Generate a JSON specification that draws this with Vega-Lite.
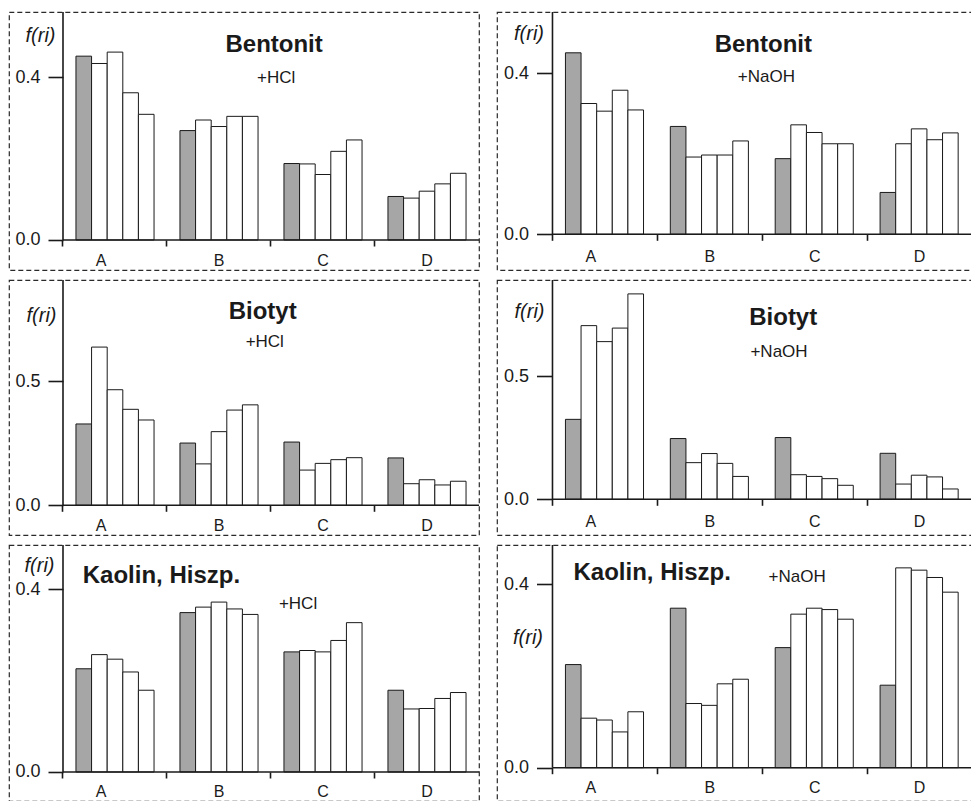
{
  "$schema": "https://vega.github.io/schema/vega-lite/v6.json",
  "padding": {"left": 8, "top": 10, "right": 0, "bottom": 0},
  "bounds": "flush",
  "columns": 2,
  "spacing": {"row": 10, "column": 18},
  "config": {
    "font": "Liberation Sans",
    "view": {"stroke": "#2a2a2a", "strokeDash": [5, 3], "strokeWidth": 1.2},
    "axis": {"domain": false, "grid": false, "labelColor": "#1a1a1a", "tickColor": "#1a1a1a", "tickWidth": 1.6, "titleColor": "#1a1a1a", "labelFont": "Liberation Sans", "titleFont": "Liberation Sans"},
    "bar": {"stroke": "#1a1a1a", "strokeWidth": 1},
    "rule": {"color": "#1a1a1a", "strokeWidth": 1.6},
    "text": {"color": "#1a1a1a"}
  },
  "datasets": {
    "bentHCl": [
      {"g": "A", "n": 1, "v": 0.452}, {"g": "A", "n": 2, "v": 0.434}, {"g": "A", "n": 3, "v": 0.462}, {"g": "A", "n": 4, "v": 0.362}, {"g": "A", "n": 5, "v": 0.309},
      {"g": "B", "n": 1, "v": 0.269}, {"g": "B", "n": 2, "v": 0.295}, {"g": "B", "n": 3, "v": 0.279}, {"g": "B", "n": 4, "v": 0.304}, {"g": "B", "n": 5, "v": 0.304},
      {"g": "C", "n": 1, "v": 0.188}, {"g": "C", "n": 2, "v": 0.187}, {"g": "C", "n": 3, "v": 0.161}, {"g": "C", "n": 4, "v": 0.218}, {"g": "C", "n": 5, "v": 0.246},
      {"g": "D", "n": 1, "v": 0.107}, {"g": "D", "n": 2, "v": 0.103}, {"g": "D", "n": 3, "v": 0.120}, {"g": "D", "n": 4, "v": 0.138}, {"g": "D", "n": 5, "v": 0.164}
    ],
    "bentNaOH": [
      {"g": "A", "n": 1, "v": 0.451}, {"g": "A", "n": 2, "v": 0.325}, {"g": "A", "n": 3, "v": 0.306}, {"g": "A", "n": 4, "v": 0.358}, {"g": "A", "n": 5, "v": 0.309},
      {"g": "B", "n": 1, "v": 0.268}, {"g": "B", "n": 2, "v": 0.192}, {"g": "B", "n": 3, "v": 0.197}, {"g": "B", "n": 4, "v": 0.197}, {"g": "B", "n": 5, "v": 0.232},
      {"g": "C", "n": 1, "v": 0.188}, {"g": "C", "n": 2, "v": 0.272}, {"g": "C", "n": 3, "v": 0.253}, {"g": "C", "n": 4, "v": 0.225}, {"g": "C", "n": 5, "v": 0.225},
      {"g": "D", "n": 1, "v": 0.104}, {"g": "D", "n": 2, "v": 0.225}, {"g": "D", "n": 3, "v": 0.262}, {"g": "D", "n": 4, "v": 0.235}, {"g": "D", "n": 5, "v": 0.252}
    ],
    "bioHCl": [
      {"g": "A", "n": 1, "v": 0.328}, {"g": "A", "n": 2, "v": 0.638}, {"g": "A", "n": 3, "v": 0.466}, {"g": "A", "n": 4, "v": 0.387}, {"g": "A", "n": 5, "v": 0.344},
      {"g": "B", "n": 1, "v": 0.251}, {"g": "B", "n": 2, "v": 0.167}, {"g": "B", "n": 3, "v": 0.297}, {"g": "B", "n": 4, "v": 0.384}, {"g": "B", "n": 5, "v": 0.405},
      {"g": "C", "n": 1, "v": 0.255}, {"g": "C", "n": 2, "v": 0.142}, {"g": "C", "n": 3, "v": 0.169}, {"g": "C", "n": 4, "v": 0.184}, {"g": "C", "n": 5, "v": 0.192},
      {"g": "D", "n": 1, "v": 0.191}, {"g": "D", "n": 2, "v": 0.087}, {"g": "D", "n": 3, "v": 0.103}, {"g": "D", "n": 4, "v": 0.082}, {"g": "D", "n": 5, "v": 0.097}
    ],
    "bioNaOH": [
      {"g": "A", "n": 1, "v": 0.325}, {"g": "A", "n": 2, "v": 0.706}, {"g": "A", "n": 3, "v": 0.641}, {"g": "A", "n": 4, "v": 0.696}, {"g": "A", "n": 5, "v": 0.835},
      {"g": "B", "n": 1, "v": 0.247}, {"g": "B", "n": 2, "v": 0.149}, {"g": "B", "n": 3, "v": 0.186}, {"g": "B", "n": 4, "v": 0.146}, {"g": "B", "n": 5, "v": 0.093},
      {"g": "C", "n": 1, "v": 0.251}, {"g": "C", "n": 2, "v": 0.100}, {"g": "C", "n": 3, "v": 0.093}, {"g": "C", "n": 4, "v": 0.084}, {"g": "C", "n": 5, "v": 0.057},
      {"g": "D", "n": 1, "v": 0.187}, {"g": "D", "n": 2, "v": 0.062}, {"g": "D", "n": 3, "v": 0.098}, {"g": "D", "n": 4, "v": 0.091}, {"g": "D", "n": 5, "v": 0.042}
    ],
    "kaoHCl": [
      {"g": "A", "n": 1, "v": 0.226}, {"g": "A", "n": 2, "v": 0.257}, {"g": "A", "n": 3, "v": 0.247}, {"g": "A", "n": 4, "v": 0.219}, {"g": "A", "n": 5, "v": 0.179},
      {"g": "B", "n": 1, "v": 0.349}, {"g": "B", "n": 2, "v": 0.361}, {"g": "B", "n": 3, "v": 0.372}, {"g": "B", "n": 4, "v": 0.357}, {"g": "B", "n": 5, "v": 0.345},
      {"g": "C", "n": 1, "v": 0.263}, {"g": "C", "n": 2, "v": 0.266}, {"g": "C", "n": 3, "v": 0.263}, {"g": "C", "n": 4, "v": 0.288}, {"g": "C", "n": 5, "v": 0.327},
      {"g": "D", "n": 1, "v": 0.179}, {"g": "D", "n": 2, "v": 0.138}, {"g": "D", "n": 3, "v": 0.139}, {"g": "D", "n": 4, "v": 0.161}, {"g": "D", "n": 5, "v": 0.174}
    ],
    "kaoNaOH": [
      {"g": "A", "n": 1, "v": 0.225}, {"g": "A", "n": 2, "v": 0.108}, {"g": "A", "n": 3, "v": 0.104}, {"g": "A", "n": 4, "v": 0.078}, {"g": "A", "n": 5, "v": 0.122},
      {"g": "B", "n": 1, "v": 0.348}, {"g": "B", "n": 2, "v": 0.140}, {"g": "B", "n": 3, "v": 0.136}, {"g": "B", "n": 4, "v": 0.183}, {"g": "B", "n": 5, "v": 0.193},
      {"g": "C", "n": 1, "v": 0.262}, {"g": "C", "n": 2, "v": 0.335}, {"g": "C", "n": 3, "v": 0.348}, {"g": "C", "n": 4, "v": 0.345}, {"g": "C", "n": 5, "v": 0.324},
      {"g": "D", "n": 1, "v": 0.180}, {"g": "D", "n": 2, "v": 0.436}, {"g": "D", "n": 3, "v": 0.431}, {"g": "D", "n": 4, "v": 0.415}, {"g": "D", "n": 5, "v": 0.383}
    ]
  },
  "concat": [
    {
      "width": 470, "height": 258,
      "layer": [
        {"data": {"name": "bentHCl"}, "mark": {"type": "bar"},
         "encoding": {
           "x": {"field": "g", "type": "nominal", "scale": {"paddingInner": 0, "paddingOuter": 0.2596, "align": 1}, "axis": {"title": null, "offset": -30, "bandPosition": 0, "labelAngle": 0, "tickSize": 6, "labelFontSize": 16, "labelPadding": 6, "labelOffset": {"condition": {"test": "datum.value === 'A'", "value": -14}, "value": 0}}},
           "xOffset": {"field": "n", "type": "nominal", "scale": {"paddingInner": 0, "paddingOuter": 0.83}},
           "y": {"field": "v", "type": "quantitative", "scale": {"domain": [-0.0738, 0.5606], "nice": false, "zero": false}, "axis": {"values": [0, 0.4], "format": ".1f", "offset": -54, "tickSize": 15, "labelFontSize": 18, "labelPadding": 8, "title": "f(ri)", "titleAngle": 0, "titleAlign": "right", "titleBaseline": "alphabetic", "titleFontSize": 20, "titleFontStyle": "italic", "titleFontWeight": "normal", "titleX": -8, "titleY": 29}},
           "y2": {"datum": 0},
           "fill": {"field": "n", "type": "nominal", "scale": {"domain": [1, 2, 3, 4, 5], "range": ["#a6a6a6", "#ffffff", "#ffffff", "#ffffff", "#ffffff"]}, "legend": null}
         }},
        {"data": {"values": [{}]}, "mark": {"type": "rule"},
         "encoding": {"x": {"datum": "A", "type": "nominal", "bandPosition": 0}, "y": {"datum": 0, "type": "quantitative"}, "y2": {"datum": 0.5606}}},
        {"data": {"values": [{}]}, "mark": {"type": "rule"},
         "encoding": {"x": {"datum": "A", "type": "nominal", "bandPosition": 0}, "x2": {"datum": "D", "bandPosition": 1}, "y": {"datum": 0, "type": "quantitative"}}},
        {"data": {"values": [{}]}, "mark": {"type": "text", "text": "Bentonit", "fontSize": 24, "fontWeight": "bold", "baseline": "alphabetic", "align": "center"},
         "encoding": {"x": {"datum": "C", "type": "nominal", "bandPosition": 0.03}, "y": {"datum": 0.462, "type": "quantitative"}}},
        {"data": {"values": [{}]}, "mark": {"type": "text", "text": "+HCl", "fontSize": 17, "baseline": "alphabetic", "align": "center"},
         "encoding": {"x": {"datum": "C", "type": "nominal", "bandPosition": 0.05}, "y": {"datum": 0.386, "type": "quantitative"}}}
      ]
    },
    {
      "width": 475, "height": 258,
      "layer": [
        {"data": {"name": "bentNaOH"}, "mark": {"type": "bar"},
         "encoding": {
           "x": {"field": "g", "type": "nominal", "scale": {"paddingInner": 0, "paddingOuter": 0.2645, "align": 1}, "axis": {"title": null, "offset": -35.7, "bandPosition": 0, "labelAngle": 0, "tickSize": 6, "labelFontSize": 16, "labelPadding": 8, "labelOffset": {"condition": {"test": "datum.value === 'A'", "value": -14}, "value": 0}}},
           "xOffset": {"field": "n", "type": "nominal", "scale": {"paddingInner": 0, "paddingOuter": 0.83}},
           "y": {"field": "v", "type": "quantitative", "scale": {"domain": [-0.0887, 0.5524], "nice": false, "zero": false}, "axis": {"values": [0, 0.4], "format": ".1f", "offset": -55.5, "tickSize": 16, "labelFontSize": 18, "labelPadding": 8, "title": "f(ri)", "titleAngle": 0, "titleAlign": "right", "titleBaseline": "alphabetic", "titleFontSize": 20, "titleFontStyle": "italic", "titleFontWeight": "normal", "titleX": -9, "titleY": 27}},
           "y2": {"datum": 0},
           "fill": {"field": "n", "type": "nominal", "scale": {"domain": [1, 2, 3, 4, 5], "range": ["#a6a6a6", "#ffffff", "#ffffff", "#ffffff", "#ffffff"]}, "legend": null}
         }},
        {"data": {"values": [{}]}, "mark": {"type": "rule"},
         "encoding": {"x": {"datum": "A", "type": "nominal", "bandPosition": 0}, "y": {"datum": 0, "type": "quantitative"}, "y2": {"datum": 0.5524}}},
        {"data": {"values": [{}]}, "mark": {"type": "rule"},
         "encoding": {"x": {"datum": "A", "type": "nominal", "bandPosition": 0}, "x2": {"datum": "D", "bandPosition": 1}, "y": {"datum": 0, "type": "quantitative"}}},
        {"data": {"values": [{}]}, "mark": {"type": "text", "text": "Bentonit", "fontSize": 24, "fontWeight": "bold", "baseline": "alphabetic", "align": "center"},
         "encoding": {"x": {"datum": "C", "type": "nominal", "bandPosition": 0.01}, "y": {"datum": 0.453, "type": "quantitative"}}},
        {"data": {"values": [{}]}, "mark": {"type": "text", "text": "+NaOH", "fontSize": 17, "baseline": "alphabetic", "align": "center"},
         "encoding": {"x": {"datum": "C", "type": "nominal", "bandPosition": 0.04}, "y": {"datum": 0.378, "type": "quantitative"}}}
      ]
    },
    {
      "width": 470, "height": 255,
      "layer": [
        {"data": {"name": "bioHCl"}, "mark": {"type": "bar"},
         "encoding": {
           "x": {"field": "g", "type": "nominal", "scale": {"paddingInner": 0, "paddingOuter": 0.2596, "align": 1}, "axis": {"title": null, "offset": -29.7, "bandPosition": 0, "labelAngle": 0, "tickSize": 6, "labelFontSize": 16, "labelPadding": 6, "labelOffset": {"condition": {"test": "datum.value === 'A'", "value": -14}, "value": 0}}},
           "xOffset": {"field": "n", "type": "nominal", "scale": {"paddingInner": 0, "paddingOuter": 0.83}},
           "y": {"field": "v", "type": "quantitative", "scale": {"domain": [-0.1198, 0.9085], "nice": false, "zero": false}, "axis": {"values": [0, 0.5], "format": ".1f", "offset": -54, "tickSize": 15, "labelFontSize": 18, "labelPadding": 8, "title": "f(ri)", "titleAngle": 0, "titleAlign": "right", "titleBaseline": "alphabetic", "titleFontSize": 20, "titleFontStyle": "italic", "titleFontWeight": "normal", "titleX": -7, "titleY": 41}},
           "y2": {"datum": 0},
           "fill": {"field": "n", "type": "nominal", "scale": {"domain": [1, 2, 3, 4, 5], "range": ["#a6a6a6", "#ffffff", "#ffffff", "#ffffff", "#ffffff"]}, "legend": null}
         }},
        {"data": {"values": [{}]}, "mark": {"type": "rule"},
         "encoding": {"x": {"datum": "A", "type": "nominal", "bandPosition": 0}, "y": {"datum": 0, "type": "quantitative"}, "y2": {"datum": 0.9085}}},
        {"data": {"values": [{}]}, "mark": {"type": "rule"},
         "encoding": {"x": {"datum": "A", "type": "nominal", "bandPosition": 0}, "x2": {"datum": "D", "bandPosition": 1}, "y": {"datum": 0, "type": "quantitative"}}},
        {"data": {"values": [{}]}, "mark": {"type": "text", "text": "Biotyt", "fontSize": 24, "fontWeight": "bold", "baseline": "alphabetic", "align": "center"},
         "encoding": {"x": {"datum": "B", "type": "nominal", "bandPosition": 0.92}, "y": {"datum": 0.752, "type": "quantitative"}}},
        {"data": {"values": [{}]}, "mark": {"type": "text", "text": "+HCl", "fontSize": 17, "baseline": "alphabetic", "align": "center"},
         "encoding": {"x": {"datum": "B", "type": "nominal", "bandPosition": 0.94}, "y": {"datum": 0.638, "type": "quantitative"}}}
      ]
    },
    {
      "width": 475, "height": 255,
      "layer": [
        {"data": {"name": "bioNaOH"}, "mark": {"type": "bar"},
         "encoding": {
           "x": {"field": "g", "type": "nominal", "scale": {"paddingInner": 0, "paddingOuter": 0.2645, "align": 1}, "axis": {"title": null, "offset": -35.7, "bandPosition": 0, "labelAngle": 0, "tickSize": 6, "labelFontSize": 16, "labelPadding": 8, "labelOffset": {"condition": {"test": "datum.value === 'A'", "value": -14}, "value": 0}}},
           "xOffset": {"field": "n", "type": "nominal", "scale": {"paddingInner": 0, "paddingOuter": 0.83}},
           "y": {"field": "v", "type": "quantitative", "scale": {"domain": [-0.1451, 0.8915], "nice": false, "zero": false}, "axis": {"values": [0, 0.5], "format": ".1f", "offset": -55.5, "tickSize": 16, "labelFontSize": 18, "labelPadding": 8, "title": "f(ri)", "titleAngle": 0, "titleAlign": "right", "titleBaseline": "alphabetic", "titleFontSize": 20, "titleFontStyle": "italic", "titleFontWeight": "normal", "titleX": -8.5, "titleY": 37}},
           "y2": {"datum": 0},
           "fill": {"field": "n", "type": "nominal", "scale": {"domain": [1, 2, 3, 4, 5], "range": ["#a6a6a6", "#ffffff", "#ffffff", "#ffffff", "#ffffff"]}, "legend": null}
         }},
        {"data": {"values": [{}]}, "mark": {"type": "rule"},
         "encoding": {"x": {"datum": "A", "type": "nominal", "bandPosition": 0}, "y": {"datum": 0, "type": "quantitative"}, "y2": {"datum": 0.8915}}},
        {"data": {"values": [{}]}, "mark": {"type": "rule"},
         "encoding": {"x": {"datum": "A", "type": "nominal", "bandPosition": 0}, "x2": {"datum": "D", "bandPosition": 1}, "y": {"datum": 0, "type": "quantitative"}}},
        {"data": {"values": [{}]}, "mark": {"type": "text", "text": "Biotyt", "fontSize": 24, "fontWeight": "bold", "baseline": "alphabetic", "align": "center"},
         "encoding": {"x": {"datum": "C", "type": "nominal", "bandPosition": 0.2}, "y": {"datum": 0.709, "type": "quantitative"}}},
        {"data": {"values": [{}]}, "mark": {"type": "text", "text": "+NaOH", "fontSize": 17, "baseline": "alphabetic", "align": "center"},
         "encoding": {"x": {"datum": "C", "type": "nominal", "bandPosition": 0.16}, "y": {"datum": 0.578, "type": "quantitative"}}}
      ]
    },
    {
      "width": 470, "height": 256,
      "layer": [
        {"data": {"name": "kaoHCl"}, "mark": {"type": "bar"},
         "encoding": {
           "x": {"field": "g", "type": "nominal", "scale": {"paddingInner": 0, "paddingOuter": 0.2596, "align": 1}, "axis": {"title": null, "offset": -29, "bandPosition": 0, "labelAngle": 0, "tickSize": 6, "labelFontSize": 16, "labelPadding": 5, "labelOffset": {"condition": {"test": "datum.value === 'A'", "value": -14}, "value": 0}}},
           "xOffset": {"field": "n", "type": "nominal", "scale": {"paddingInner": 0, "paddingOuter": 0.83}},
           "y": {"field": "v", "type": "quantitative", "scale": {"domain": [-0.0635, 0.497], "nice": false, "zero": false}, "axis": {"values": [0, 0.4], "format": ".1f", "offset": -54, "tickSize": 15, "labelFontSize": 18, "labelPadding": 8, "title": "f(ri)", "titleAngle": 0, "titleAlign": "right", "titleBaseline": "alphabetic", "titleFontSize": 20, "titleFontStyle": "italic", "titleFontWeight": "normal", "titleX": -9, "titleY": 26}},
           "y2": {"datum": 0},
           "fill": {"field": "n", "type": "nominal", "scale": {"domain": [1, 2, 3, 4, 5], "range": ["#a6a6a6", "#ffffff", "#ffffff", "#ffffff", "#ffffff"]}, "legend": null}
         }},
        {"data": {"values": [{}]}, "mark": {"type": "rule"},
         "encoding": {"x": {"datum": "A", "type": "nominal", "bandPosition": 0}, "y": {"datum": 0, "type": "quantitative"}, "y2": {"datum": 0.497}}},
        {"data": {"values": [{}]}, "mark": {"type": "rule"},
         "encoding": {"x": {"datum": "A", "type": "nominal", "bandPosition": 0}, "x2": {"datum": "D", "bandPosition": 1}, "y": {"datum": 0, "type": "quantitative"}}},
        {"data": {"values": [{}]}, "mark": {"type": "text", "text": "Kaolin, Hiszp.", "fontSize": 24, "fontWeight": "bold", "baseline": "alphabetic", "align": "left"},
         "encoding": {"x": {"datum": "A", "type": "nominal", "bandPosition": 0.19}, "y": {"datum": 0.414, "type": "quantitative"}}},
        {"data": {"values": [{}]}, "mark": {"type": "text", "text": "+HCl", "fontSize": 17, "baseline": "alphabetic", "align": "center"},
         "encoding": {"x": {"datum": "C", "type": "nominal", "bandPosition": 0.26}, "y": {"datum": 0.357, "type": "quantitative"}}}
      ]
    },
    {
      "width": 475, "height": 256,
      "layer": [
        {"data": {"name": "kaoNaOH"}, "mark": {"type": "bar"},
         "encoding": {
           "x": {"field": "g", "type": "nominal", "scale": {"paddingInner": 0, "paddingOuter": 0.2645, "align": 1}, "axis": {"title": null, "offset": -33.3, "bandPosition": 0, "labelAngle": 0, "tickSize": 6, "labelFontSize": 16, "labelPadding": 6, "labelOffset": {"condition": {"test": "datum.value === 'A'", "value": -14}, "value": 0}}},
           "xOffset": {"field": "n", "type": "nominal", "scale": {"paddingInner": 0, "paddingOuter": 0.83}},
           "y": {"field": "v", "type": "quantitative", "scale": {"domain": [-0.0727, 0.4859], "nice": false, "zero": false}, "axis": {"values": [0, 0.4], "format": ".1f", "offset": -55.5, "tickSize": 16, "labelFontSize": 18, "labelPadding": 8, "title": "f(ri)", "titleAngle": 0, "titleAlign": "right", "titleBaseline": "alphabetic", "titleFontSize": 20, "titleFontStyle": "italic", "titleFontWeight": "normal", "titleX": -10, "titleY": 98}},
           "y2": {"datum": 0},
           "fill": {"field": "n", "type": "nominal", "scale": {"domain": [1, 2, 3, 4, 5], "range": ["#a6a6a6", "#ffffff", "#ffffff", "#ffffff", "#ffffff"]}, "legend": null}
         }},
        {"data": {"values": [{}]}, "mark": {"type": "rule"},
         "encoding": {"x": {"datum": "A", "type": "nominal", "bandPosition": 0}, "y": {"datum": 0, "type": "quantitative"}, "y2": {"datum": 0.4859}}},
        {"data": {"values": [{}]}, "mark": {"type": "rule"},
         "encoding": {"x": {"datum": "A", "type": "nominal", "bandPosition": 0}, "x2": {"datum": "D", "bandPosition": 1}, "y": {"datum": 0, "type": "quantitative"}}},
        {"data": {"values": [{}]}, "mark": {"type": "text", "text": "Kaolin, Hiszp.", "fontSize": 24, "fontWeight": "bold", "baseline": "alphabetic", "align": "left"},
         "encoding": {"x": {"datum": "A", "type": "nominal", "bandPosition": 0.2}, "y": {"datum": 0.41, "type": "quantitative"}}},
        {"data": {"values": [{}]}, "mark": {"type": "text", "text": "+NaOH", "fontSize": 17, "baseline": "alphabetic", "align": "left"},
         "encoding": {"x": {"datum": "C", "type": "nominal", "bandPosition": 0.06}, "y": {"datum": 0.405, "type": "quantitative"}}}
      ]
    }
  ]
}
